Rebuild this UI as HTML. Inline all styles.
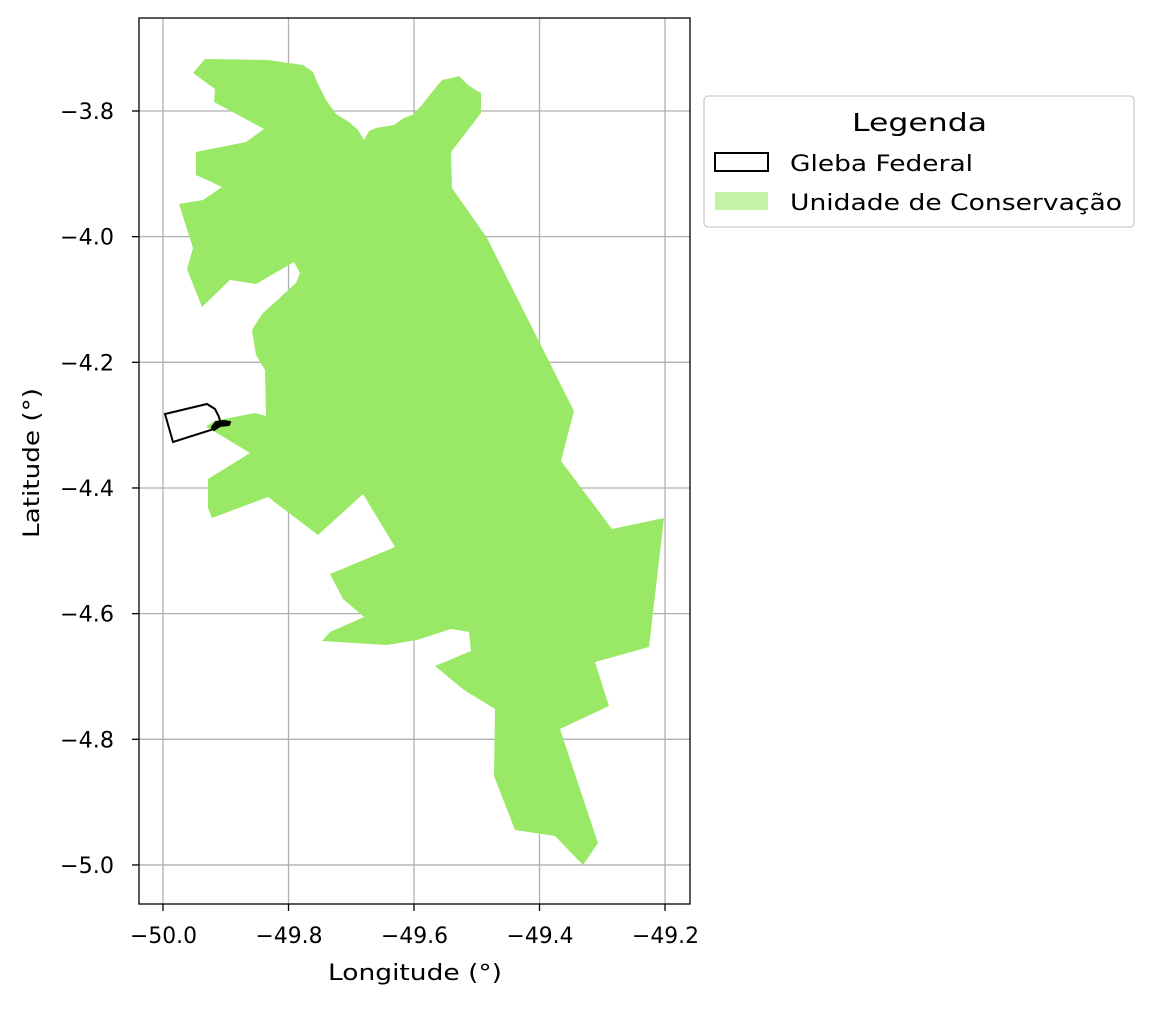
<!DOCTYPE html>
<html><head><meta charset="utf-8"><style>
body{margin:0;background:#fff;}
svg text{font-family:"DejaVu Sans","Liberation Sans",sans-serif;fill:#000;}
</style></head><body>
<svg id="c" width="1152" height="1006">
<g id="grid"></g>
<g id="plot"></g>
<rect x="139" y="18" width="551" height="886" fill="none" stroke="#000" stroke-width="1.3"/>
<g id="ticks"></g>
<text x="328" y="980" font-size="22" textLength="174" lengthAdjust="spacingAndGlyphs">Longitude (°)</text>
<text x="0" y="0" font-size="22" textLength="150" lengthAdjust="spacingAndGlyphs" transform="translate(39,538) rotate(-90)">Latitude (°)</text>
<g>
<rect x="704" y="96" width="430" height="131" rx="4" fill="#fff" stroke="#ccc" stroke-width="1.3"/>
<text x="852" y="131" font-size="25" textLength="135" lengthAdjust="spacingAndGlyphs">Legenda</text>
<rect x="715" y="153" width="53" height="18" fill="none" stroke="#000" stroke-width="2"/>
<text x="790" y="171" font-size="22" textLength="183" lengthAdjust="spacingAndGlyphs">Gleba Federal</text>
<rect x="715" y="192" width="53" height="18" fill="#c3f2a8"/>
<text x="790" y="210" font-size="22" textLength="332" lengthAdjust="spacingAndGlyphs">Unidade de Conservação</text>
</g>
</svg>
<script>
const xTicks=[-50.0,-49.8,-49.6,-49.4,-49.2];
const yTicks=[-3.8,-4.0,-4.2,-4.4,-4.6,-4.8,-5.0];
const xTickLabels=["−50.0","−49.8","−49.6","−49.4","−49.2"];
const yTickLabels=["−3.8","−4.0","−4.2","−4.4","−4.6","−4.8","−5.0"];
const ucPx=[[205,59],[268,60],[303,65],[313,72],[318,84],[326,100],[336,114],[349,122],[358,130],[364,140],[369,131],[376,128],[394,125],[404,118],[412,115],[422,105],[432,92],[442,80],[452,78],[459,76],[467,84],[474,89],[481,93],[481,113],[451,152],[452,188],[487,238],[574,411],[561,461],[612,529],[664,518],[649,647],[595,662],[609,706],[560,729],[598,843],[583,865],[555,836],[515,830],[494,776],[495,709],[464,690],[435,666],[471,651],[469,632],[451,629],[417,640],[387,645],[322,641],[330,632],[364,617],[343,599],[330,574],[395,547],[363,494],[318,535],[268,497],[212,518],[208,508],[208,479],[250,453],[212,430],[206,427],[214,421],[255,413],[266,416],[265,370],[256,355],[252,330],[262,314],[296,283],[300,273],[294,262],[256,284],[230,280],[202,307],[187,269],[193,248],[179,204],[203,200],[222,187],[196,175],[196,152],[246,142],[264,129],[214,102],[215,89],[193,73]];
const glebaPx=[[165,414],[207,404],[215,409],[219,417],[221,425],[211,430],[173,442]];
const blobPx=[[212,427],[216,422],[224,421],[230,422],[229,425],[220,426],[214,430]];
function toLon(p){return -50+(p-163)/627.5;}
function toLat(p){return -3.8-(p-111)/628.3;}
const ucLon=ucPx.map(p=>toLon(p[0])), ucLat=ucPx.map(p=>toLat(p[1]));
const glebaLon=glebaPx.map(p=>toLon(p[0])), glebaLat=glebaPx.map(p=>toLat(p[1]));
const blobLon=blobPx.map(p=>toLon(p[0])), blobLat=blobPx.map(p=>toLat(p[1]));
function X(lon){return 163+(lon+50)*627.5;}
function Y(lat){return 111+(-3.8-lat)*628.3;}
const NS="http://www.w3.org/2000/svg";
function mk(t,a,parent){const e=document.createElementNS(NS,t);for(const k in a)e.setAttribute(k,a[k]);document.getElementById(parent).appendChild(e);return e;}
function pts(lo,la){return lo.map((v,i)=>X(v).toFixed(1)+","+Y(la[i]).toFixed(1)).join(" ");}
xTicks.forEach((v,i)=>{
 const g=mk("line",{x1:X(v),x2:X(v),y1:18,y2:904,stroke:"#b0b0b0","stroke-width":1.3},"grid");
 
 
 const t=mk("line",{x1:X(v),x2:X(v),y1:904,y2:911,stroke:"#000","stroke-width":1.3},"ticks");
 
 
 const l=mk("text",{x:X(v)-33,y:943,"font-size":22,textLength:67,lengthAdjust:"spacingAndGlyphs"},"ticks");
 l.textContent=xTickLabels[i];
 
 
});
yTicks.forEach((v,i)=>{
 const g=mk("line",{x1:139,x2:690,y1:Y(v),y2:Y(v),stroke:"#b0b0b0","stroke-width":1.3},"grid");
 
 
 const t=mk("line",{x1:132,x2:139,y1:Y(v),y2:Y(v),stroke:"#000","stroke-width":1.3},"ticks");
 
 
 const l=mk("text",{x:60,y:Y(v)+8,"font-size":22,textLength:54,lengthAdjust:"spacingAndGlyphs"},"ticks");
 l.textContent=yTickLabels[i];
 
 
});
const uc=mk("polygon",{points:pts(ucLon,ucLat),fill:"#9ae966"},"plot");


const gl=mk("polygon",{points:pts(glebaLon,glebaLat),fill:"none",stroke:"#000","stroke-width":2},"plot");


const bl=mk("polygon",{points:pts(blobLon,blobLat),fill:"#000",stroke:"#000","stroke-width":2},"plot");


</script>
</body></html>
